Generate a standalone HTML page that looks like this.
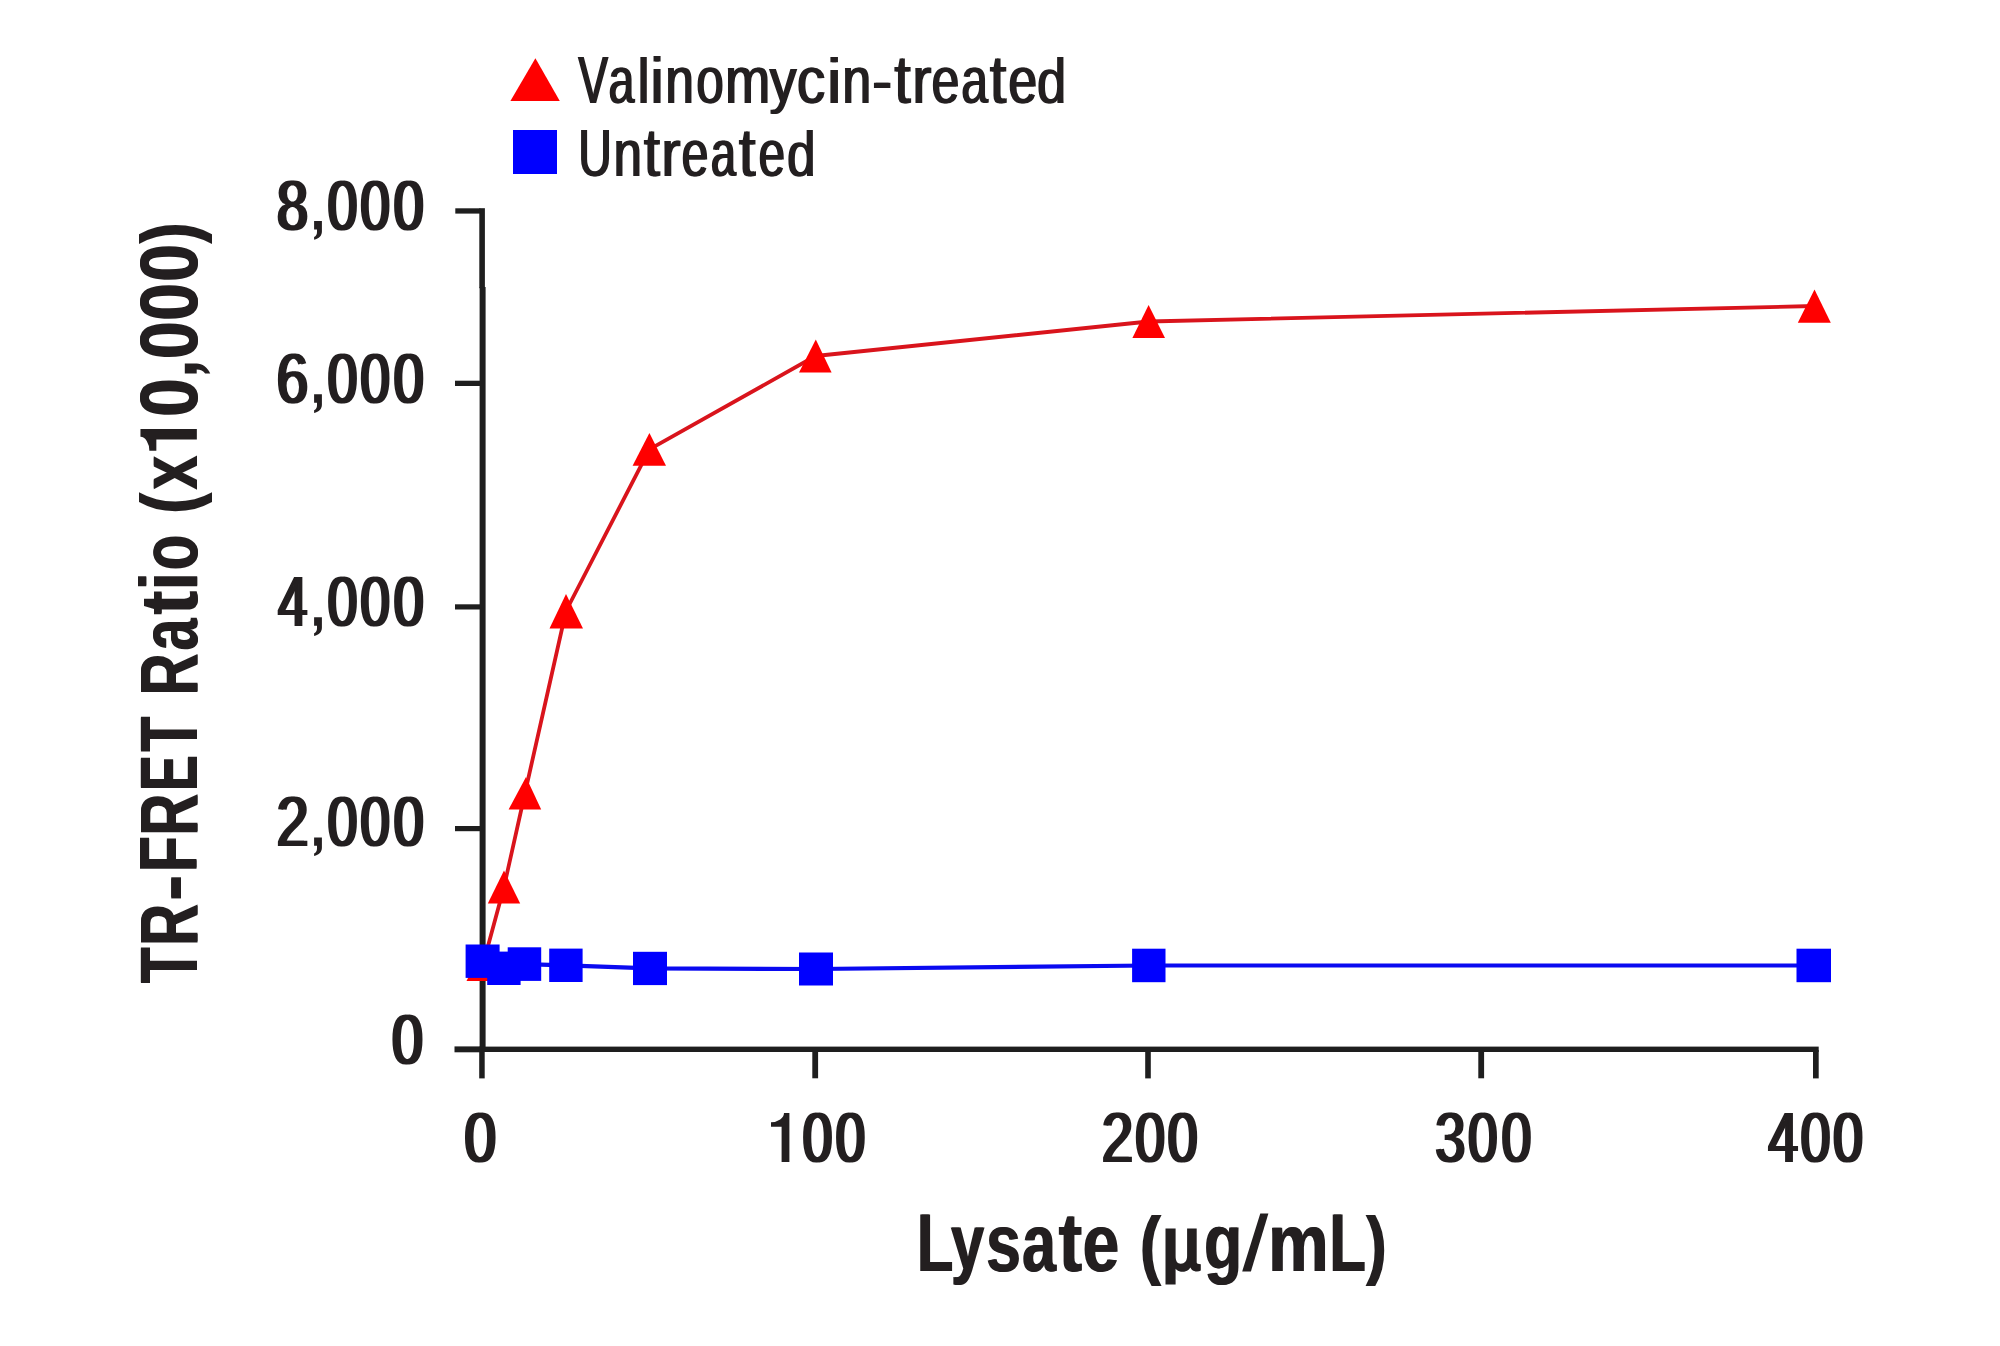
<!DOCTYPE html>
<html>
<head>
<meta charset="utf-8">
<style>
html,body{margin:0;padding:0;background:#fff;width:2000px;height:1346px;overflow:hidden;}
svg{display:block;}
text{font-family:"Liberation Sans", sans-serif;}
</style>
</head>
<body>
<svg width="2000" height="1346" viewBox="0 0 2000 1346">
<rect x="0" y="0" width="2000" height="1346" fill="#fff"/>
<!-- legend -->
<polygon points="510.4,101 535.4,58.3 559.8,101" fill="#ff0000"/>
<rect x="513" y="130" width="44" height="44" fill="#0000ff"/>

<!-- axes -->
<g fill="#1e1e1e">
<rect x="479.3" y="208.2" width="5.6" height="80"/>
<rect x="479.6" y="287" width="6" height="765"/>
<rect x="454.5" y="1046.4" width="26" height="5.9"/>
<rect x="479.4" y="1046.6" width="1339.3" height="5.4"/>
<rect x="455.3" y="208.3" width="25" height="5.3"/>
<rect x="455" y="380.7" width="25" height="5.3"/>
<rect x="455" y="604.3" width="25" height="5.2"/>
<rect x="455" y="826" width="25" height="5.2"/>
<rect x="479.2" y="1050" width="5.5" height="28.4"/>
<rect x="812.3" y="1050" width="5.8" height="28.3"/>
<rect x="1145.2" y="1050" width="5.6" height="28.4"/>
<rect x="1478.3" y="1050" width="5.8" height="28.3"/>
<rect x="1813" y="1050" width="5.7" height="28.4"/>
</g>

<!-- red series -->
<polyline fill="none" stroke="#d9141c" stroke-width="3.8" stroke-linejoin="round"
 points="483,964.5 504,887 525,793 566,611 649.4,449.4 815.5,356 1148.7,321.5 1814.3,306"/>
<g fill="#ff0000">
<polygon points="466.5,981 483,948 499.5,981"/>
<polygon points="487.8,903.5 504,870.5 520.2,903.5"/>
<polygon points="508.6,809.5 526,777 541.2,809.5"/>
<polygon points="549.5,628.4 566,594 583,628.4"/>
<polygon points="632.6,465.7 649.4,433 666,465.7"/>
<polygon points="799,372.4 815.8,339.6 831.6,372.4"/>
<polygon points="1132.4,338 1148.6,305 1165,338"/>
<polygon points="1797.8,322.8 1814.5,289.5 1830.8,322.8"/>
</g>

<!-- blue series -->
<polyline fill="none" stroke="#0a0af0" stroke-width="4.2" stroke-linejoin="round"
 points="482.6,961.2 504,968.3 524.5,964.1 566,965.3 650,968.4 816,969 1148.8,965.5 1813.8,965.5"/>
<g fill="#0000ff">
<rect x="465.6" y="944.5" width="34" height="33.4"/>
<rect x="487.2" y="951.6" width="33.4" height="33.4"/>
<rect x="507.7" y="947.3" width="33.5" height="33.6"/>
<rect x="549.2" y="948.6" width="33.4" height="33.4"/>
<rect x="633" y="951.8" width="34" height="33.3"/>
<rect x="799" y="952.5" width="34" height="33"/>
<rect x="1132.1" y="948.7" width="33.4" height="33.5"/>
<rect x="1796.5" y="948.7" width="34.5" height="33.5"/>
</g>

<g fill="#231f20">
<g font-size="66.0">
<text transform="translate(577.56,103.20) scale(0.6722,1.0000)">V</text>
<text transform="translate(607.79,103.20) scale(0.6991,1.0000)">a</text>
<text transform="translate(636.80,103.20) scale(0.8102,0.9556)">l</text>
<text transform="translate(649.47,103.20) scale(0.9137,0.9681)">i</text>
<text transform="translate(664.49,103.20) scale(0.7775,1.0000)">n</text>
<text transform="translate(695.44,103.20) scale(0.7445,1.0000)">o</text>
<text transform="translate(724.15,103.20) scale(0.8206,1.0000)">m</text>
<text transform="translate(768.87,100.93) scale(0.8086,0.9359)">y</text>
<text transform="translate(795.99,103.20) scale(0.8610,1.0000)">c</text>
<text transform="translate(825.89,103.20) scale(0.9999,0.9681)">i</text>
<text transform="translate(841.56,103.20) scale(0.7847,1.0000)">n</text>
<text transform="translate(871.32,103.20) scale(0.9123,1.0000)">-</text>
<text transform="translate(893.41,103.20) scale(0.8900,1.0336)">t</text>
<text transform="translate(911.50,103.20) scale(0.8667,1.0000)">r</text>
<text transform="translate(930.68,103.20) scale(0.7556,1.0000)">e</text>
<text transform="translate(960.47,103.20) scale(0.7227,1.0000)">a</text>
<text transform="translate(989.12,103.20) scale(0.8840,1.0336)">t</text>
<text transform="translate(1007.62,103.20) scale(0.7782,1.0000)">e</text>
<text transform="translate(1036.31,103.20) scale(0.7884,0.9514)">d</text>
</g>
<g transform="translate(1.8,0)" font-size="66.0">
<text transform="translate(577.56,103.20) scale(0.6722,1.0000)">V</text>
<text transform="translate(607.79,103.20) scale(0.6991,1.0000)">a</text>
<text transform="translate(636.80,103.20) scale(0.8102,0.9556)">l</text>
<text transform="translate(649.47,103.20) scale(0.9137,0.9681)">i</text>
<text transform="translate(664.49,103.20) scale(0.7775,1.0000)">n</text>
<text transform="translate(695.44,103.20) scale(0.7445,1.0000)">o</text>
<text transform="translate(724.15,103.20) scale(0.8206,1.0000)">m</text>
<text transform="translate(768.87,100.93) scale(0.8086,0.9359)">y</text>
<text transform="translate(795.99,103.20) scale(0.8610,1.0000)">c</text>
<text transform="translate(825.89,103.20) scale(0.9999,0.9681)">i</text>
<text transform="translate(841.56,103.20) scale(0.7847,1.0000)">n</text>
<text transform="translate(871.32,103.20) scale(0.9123,1.0000)">-</text>
<text transform="translate(893.41,103.20) scale(0.8900,1.0336)">t</text>
<text transform="translate(911.50,103.20) scale(0.8667,1.0000)">r</text>
<text transform="translate(930.68,103.20) scale(0.7556,1.0000)">e</text>
<text transform="translate(960.47,103.20) scale(0.7227,1.0000)">a</text>
<text transform="translate(989.12,103.20) scale(0.8840,1.0336)">t</text>
<text transform="translate(1007.62,103.20) scale(0.7782,1.0000)">e</text>
<text transform="translate(1036.31,103.20) scale(0.7884,0.9514)">d</text>
</g>
<g font-size="66.0">
<text transform="translate(577.44,176.30) scale(0.6990,1.0000)">U</text>
<text transform="translate(612.82,176.30) scale(0.7704,1.0000)">n</text>
<text transform="translate(642.92,176.30) scale(0.8781,1.0441)">t</text>
<text transform="translate(660.47,176.30) scale(0.8727,1.0000)">r</text>
<text transform="translate(680.75,176.30) scale(0.7297,1.0000)">e</text>
<text transform="translate(710.11,176.30) scale(0.6755,1.0000)">a</text>
<text transform="translate(738.10,176.30) scale(0.8959,1.0441)">t</text>
<text transform="translate(757.78,176.30) scale(0.7201,1.0000)">e</text>
<text transform="translate(786.26,176.30) scale(0.7715,0.9514)">d</text>
</g>
<g transform="translate(1.8,0)" font-size="66.0">
<text transform="translate(577.44,176.30) scale(0.6990,1.0000)">U</text>
<text transform="translate(612.82,176.30) scale(0.7704,1.0000)">n</text>
<text transform="translate(642.92,176.30) scale(0.8781,1.0441)">t</text>
<text transform="translate(660.47,176.30) scale(0.8727,1.0000)">r</text>
<text transform="translate(680.75,176.30) scale(0.7297,1.0000)">e</text>
<text transform="translate(710.11,176.30) scale(0.6755,1.0000)">a</text>
<text transform="translate(738.10,176.30) scale(0.8959,1.0441)">t</text>
<text transform="translate(757.78,176.30) scale(0.7201,1.0000)">e</text>
<text transform="translate(786.26,176.30) scale(0.7715,0.9514)">d</text>
</g>
<g font-size="70.33898305084746">
<text transform="translate(275.37,229.60) scale(0.7938,1.0000)">8</text>
<text transform="translate(325.91,229.60) scale(0.7614,1.0000)">0</text>
<text transform="translate(358.72,229.60) scale(0.7554,1.0000)">0</text>
<text transform="translate(392.00,229.60) scale(0.7643,1.0000)">0</text>
</g>
<g transform="translate(3.4,0)" font-size="70.33898305084746">
<text transform="translate(275.37,229.60) scale(0.7938,1.0000)">8</text>
<text transform="translate(325.91,229.60) scale(0.7614,1.0000)">0</text>
<text transform="translate(358.72,229.60) scale(0.7554,1.0000)">0</text>
<text transform="translate(392.00,229.60) scale(0.7643,1.0000)">0</text>
</g>
<path transform="translate(314.10,221.10)" d="M0,0 H7.8 V10.4 C7.8,14.5 5,17.6 0,18.6 V16 C2,15 2.9,13.5 2.9,11 V8.4 H0 Z"/>
<g font-size="70.33898305084746">
<text transform="translate(274.92,402.80) scale(0.8072,1.0000)">6</text>
<text transform="translate(325.91,402.80) scale(0.7614,1.0000)">0</text>
<text transform="translate(358.72,402.80) scale(0.7554,1.0000)">0</text>
<text transform="translate(392.00,402.80) scale(0.7643,1.0000)">0</text>
</g>
<g transform="translate(3.4,0)" font-size="70.33898305084746">
<text transform="translate(274.92,402.80) scale(0.8072,1.0000)">6</text>
<text transform="translate(325.91,402.80) scale(0.7614,1.0000)">0</text>
<text transform="translate(358.72,402.80) scale(0.7554,1.0000)">0</text>
<text transform="translate(392.00,402.80) scale(0.7643,1.0000)">0</text>
</g>
<path transform="translate(314.10,394.30)" d="M0,0 H7.8 V10.4 C7.8,14.5 5,17.6 0,18.6 V16 C2,15 2.9,13.5 2.9,11 V8.4 H0 Z"/>
<g font-size="70.33898305084746">
<text transform="translate(276.61,625.80) scale(0.7392,1.0000)">4</text>
<text transform="translate(325.91,625.80) scale(0.7614,1.0000)">0</text>
<text transform="translate(358.72,625.80) scale(0.7554,1.0000)">0</text>
<text transform="translate(392.00,625.80) scale(0.7643,1.0000)">0</text>
</g>
<g transform="translate(3.4,0)" font-size="70.33898305084746">
<text transform="translate(276.61,625.80) scale(0.7392,1.0000)">4</text>
<text transform="translate(325.91,625.80) scale(0.7614,1.0000)">0</text>
<text transform="translate(358.72,625.80) scale(0.7554,1.0000)">0</text>
<text transform="translate(392.00,625.80) scale(0.7643,1.0000)">0</text>
</g>
<path transform="translate(314.10,617.30)" d="M0,0 H7.8 V10.4 C7.8,14.5 5,17.6 0,18.6 V16 C2,15 2.9,13.5 2.9,11 V8.4 H0 Z"/>
<g font-size="70.33898305084746">
<text transform="translate(274.91,845.90) scale(0.8176,1.0000)">2</text>
<text transform="translate(325.91,845.90) scale(0.7614,1.0000)">0</text>
<text transform="translate(358.72,845.90) scale(0.7554,1.0000)">0</text>
<text transform="translate(392.00,845.90) scale(0.7643,1.0000)">0</text>
</g>
<g transform="translate(3.4,0)" font-size="70.33898305084746">
<text transform="translate(274.91,845.90) scale(0.8176,1.0000)">2</text>
<text transform="translate(325.91,845.90) scale(0.7614,1.0000)">0</text>
<text transform="translate(358.72,845.90) scale(0.7554,1.0000)">0</text>
<text transform="translate(392.00,845.90) scale(0.7643,1.0000)">0</text>
</g>
<path transform="translate(314.10,837.40)" d="M0,0 H7.8 V10.4 C7.8,14.5 5,17.6 0,18.6 V16 C2,15 2.9,13.5 2.9,11 V8.4 H0 Z"/>
<g font-size="70.33898305084746">
<text transform="translate(390.33,1063.50) scale(0.7911,1.0000)">0</text>
</g>
<g transform="translate(3.4,0)" font-size="70.33898305084746">
<text transform="translate(390.33,1063.50) scale(0.7911,1.0000)">0</text>
</g>
<g font-size="70.33898305084746">
<text transform="translate(462.79,1161.90) scale(0.8060,1.0000)">0</text>
</g>
<g transform="translate(3.4,0)" font-size="70.33898305084746">
<text transform="translate(462.79,1161.90) scale(0.8060,1.0000)">0</text>
</g>
<g font-size="70.33898305084746">
<text transform="translate(801.12,1161.90) scale(0.7554,1.0000)">0</text>
<text transform="translate(834.04,1161.90) scale(0.7495,1.0000)">0</text>
</g>
<g transform="translate(3.4,0)" font-size="70.33898305084746">
<text transform="translate(801.12,1161.90) scale(0.7554,1.0000)">0</text>
<text transform="translate(834.04,1161.90) scale(0.7495,1.0000)">0</text>
</g>
<path transform="translate(771.00,1113.10)" d="M18.40,0 L18.40,48.80 L10.60,48.80 L10.60,13.60 L0,13.60 L0,9.10 A13.00,9.10 0 0 0 13.00,0 Z"/>
<g font-size="70.33898305084746">
<text transform="translate(1100.17,1161.90) scale(0.7989,1.0000)">2</text>
<text transform="translate(1133.72,1161.90) scale(0.7554,1.0000)">0</text>
<text transform="translate(1166.11,1161.90) scale(0.7614,1.0000)">0</text>
</g>
<g transform="translate(3.4,0)" font-size="70.33898305084746">
<text transform="translate(1100.17,1161.90) scale(0.7989,1.0000)">2</text>
<text transform="translate(1133.72,1161.90) scale(0.7554,1.0000)">0</text>
<text transform="translate(1166.11,1161.90) scale(0.7614,1.0000)">0</text>
</g>
<g font-size="70.33898305084746">
<text transform="translate(1433.65,1161.90) scale(0.7646,1.0000)">3</text>
<text transform="translate(1466.44,1161.90) scale(0.7495,1.0000)">0</text>
<text transform="translate(1499.92,1161.90) scale(0.7584,1.0000)">0</text>
</g>
<g transform="translate(3.4,0)" font-size="70.33898305084746">
<text transform="translate(1433.65,1161.90) scale(0.7646,1.0000)">3</text>
<text transform="translate(1466.44,1161.90) scale(0.7495,1.0000)">0</text>
<text transform="translate(1499.92,1161.90) scale(0.7584,1.0000)">0</text>
</g>
<g font-size="70.33898305084746">
<text transform="translate(1766.79,1161.90) scale(0.7505,1.0000)">4</text>
<text transform="translate(1798.91,1161.90) scale(0.7614,1.0000)">0</text>
<text transform="translate(1831.52,1161.90) scale(0.7554,1.0000)">0</text>
</g>
<g transform="translate(3.4,0)" font-size="70.33898305084746">
<text transform="translate(1766.79,1161.90) scale(0.7505,1.0000)">4</text>
<text transform="translate(1798.91,1161.90) scale(0.7614,1.0000)">0</text>
<text transform="translate(1831.52,1161.90) scale(0.7554,1.0000)">0</text>
</g>
<g font-size="82.0" font-weight="bold">
<text transform="translate(916.21,1270.85) scale(0.7272,1.0000)">L</text>
<text transform="translate(950.33,1268.93) scale(0.7322,0.9563)">y</text>
<text transform="translate(985.60,1270.85) scale(0.7622,1.0000)">s</text>
<text transform="translate(1021.62,1270.85) scale(0.7410,1.0000)">a</text>
<text transform="translate(1057.94,1270.85) scale(0.8615,1.0216)">t</text>
<text transform="translate(1082.03,1270.85) scale(0.8031,1.0000)">e</text>
<text transform="translate(1139.24,1269.88) scale(0.7735,0.9354)">(</text>
<text transform="translate(1203.55,1269.37) scale(0.7590,0.9457)">g</text>
<text transform="translate(1267.51,1270.85) scale(0.8299,1.0000)">m</text>
<text transform="translate(1328.80,1270.85) scale(0.7295,1.0000)">L</text>
<text transform="translate(1365.54,1269.88) scale(0.7519,0.9354)">)</text>
</g>
<g transform="translate(1.2,0)" font-size="82.0" font-weight="bold">
<text transform="translate(916.21,1270.85) scale(0.7272,1.0000)">L</text>
<text transform="translate(950.33,1268.93) scale(0.7322,0.9563)">y</text>
<text transform="translate(985.60,1270.85) scale(0.7622,1.0000)">s</text>
<text transform="translate(1021.62,1270.85) scale(0.7410,1.0000)">a</text>
<text transform="translate(1057.94,1270.85) scale(0.8615,1.0216)">t</text>
<text transform="translate(1082.03,1270.85) scale(0.8031,1.0000)">e</text>
<text transform="translate(1139.24,1269.88) scale(0.7735,0.9354)">(</text>
<text transform="translate(1203.55,1269.37) scale(0.7590,0.9457)">g</text>
<text transform="translate(1267.51,1270.85) scale(0.8299,1.0000)">m</text>
<text transform="translate(1328.80,1270.85) scale(0.7295,1.0000)">L</text>
<text transform="translate(1365.54,1269.88) scale(0.7519,0.9354)">)</text>
</g>
<path d="M1165.5,1228.6 H1175.6 V1256 C1175.6,1261.5 1177.5,1263.7 1180.8,1263.7 C1184.5,1263.7 1187.1,1261 1187.1,1256 V1228.6 H1196.7 V1262.5 C1196.7,1263.8 1198.2,1264.2 1200.8,1264.2 V1270.6 C1199.8,1271.2 1198.5,1271.5 1197,1271.5 C1193.5,1271.5 1191.5,1270 1190.4,1267.5 C1188.6,1270.5 1186,1271.8 1182.6,1271.8 C1179.5,1271.8 1177,1270.8 1175.6,1268.8 V1284.5 H1165.5 Z"/>
<path d="M1242.2,1271.6 L1250.9,1271.6 L1268.4,1213.4 L1260.3,1213.4 Z"/>
<g transform="rotate(-90)">
<g font-size="82.0" font-weight="bold">
<text transform="translate(-983.86,196.85) scale(0.7145,1.0000)">T</text>
<text transform="translate(-946.17,196.85) scale(0.7051,1.0000)">R</text>
<text transform="translate(-901.56,196.85) scale(0.9558,1.0000)">-</text>
<text transform="translate(-872.73,196.85) scale(0.7163,1.0000)">F</text>
<text transform="translate(-836.19,196.85) scale(0.7089,1.0000)">R</text>
<text transform="translate(-791.38,196.85) scale(0.6521,1.0000)">E</text>
<text transform="translate(-752.14,196.85) scale(0.6958,1.0000)">T</text>
<text transform="translate(-696.10,196.85) scale(0.7108,1.0000)">R</text>
<text transform="translate(-650.96,196.85) scale(0.6930,1.0000)">a</text>
<text transform="translate(-614.96,196.85) scale(0.8575,1.0000)">t</text>
<text transform="translate(-590.83,196.85) scale(0.7910,1.0000)">i</text>
<text transform="translate(-570.65,196.85) scale(0.7028,1.0000)">o</text>
<text transform="translate(-514.21,195.92) scale(0.7605,0.9394)">(</text>
<text transform="translate(-490.32,196.85) scale(0.7448,1.0000)">x</text>
<text transform="translate(-417.45,196.85) scale(0.8488,1.0000)">0</text>
<text transform="translate(-359.69,196.85) scale(0.8308,1.0000)">0</text>
<text transform="translate(-321.39,196.85) scale(0.8282,1.0000)">0</text>
<text transform="translate(-282.39,196.85) scale(0.8282,1.0000)">0</text>
<text transform="translate(-243.96,195.92) scale(0.7605,0.9394)">)</text>
</g>
<g transform="translate(1.2,0)" font-size="82.0" font-weight="bold">
<text transform="translate(-983.86,196.85) scale(0.7145,1.0000)">T</text>
<text transform="translate(-946.17,196.85) scale(0.7051,1.0000)">R</text>
<text transform="translate(-901.56,196.85) scale(0.9558,1.0000)">-</text>
<text transform="translate(-872.73,196.85) scale(0.7163,1.0000)">F</text>
<text transform="translate(-836.19,196.85) scale(0.7089,1.0000)">R</text>
<text transform="translate(-791.38,196.85) scale(0.6521,1.0000)">E</text>
<text transform="translate(-752.14,196.85) scale(0.6958,1.0000)">T</text>
<text transform="translate(-696.10,196.85) scale(0.7108,1.0000)">R</text>
<text transform="translate(-650.96,196.85) scale(0.6930,1.0000)">a</text>
<text transform="translate(-614.96,196.85) scale(0.8575,1.0000)">t</text>
<text transform="translate(-590.83,196.85) scale(0.7910,1.0000)">i</text>
<text transform="translate(-570.65,196.85) scale(0.7028,1.0000)">o</text>
<text transform="translate(-514.21,195.92) scale(0.7605,0.9394)">(</text>
<text transform="translate(-490.32,196.85) scale(0.7448,1.0000)">x</text>
<text transform="translate(-417.45,196.85) scale(0.8488,1.0000)">0</text>
<text transform="translate(-359.69,196.85) scale(0.8308,1.0000)">0</text>
<text transform="translate(-321.39,196.85) scale(0.8282,1.0000)">0</text>
<text transform="translate(-282.39,196.85) scale(0.8282,1.0000)">0</text>
<text transform="translate(-243.96,195.92) scale(0.7605,0.9394)">)</text>
</g>
<path transform="translate(-450.80,140.45)" d="M21.70,0 L21.70,56.40 L11.20,56.40 L11.20,15.90 L0,15.90 L0,8.90 A14.00,8.90 0 0 0 14.00,0 Z"/>
<path transform="translate(-373.50,184.80)" d="M0,0 H10 V11.9 C10,17.5 6,23 0,25.4 L0,20.3 C2.6,18.6 4,15.8 4,11.9 L0,11.9 Z"/>
</g>
</g>
</svg>
</body>
</html>
